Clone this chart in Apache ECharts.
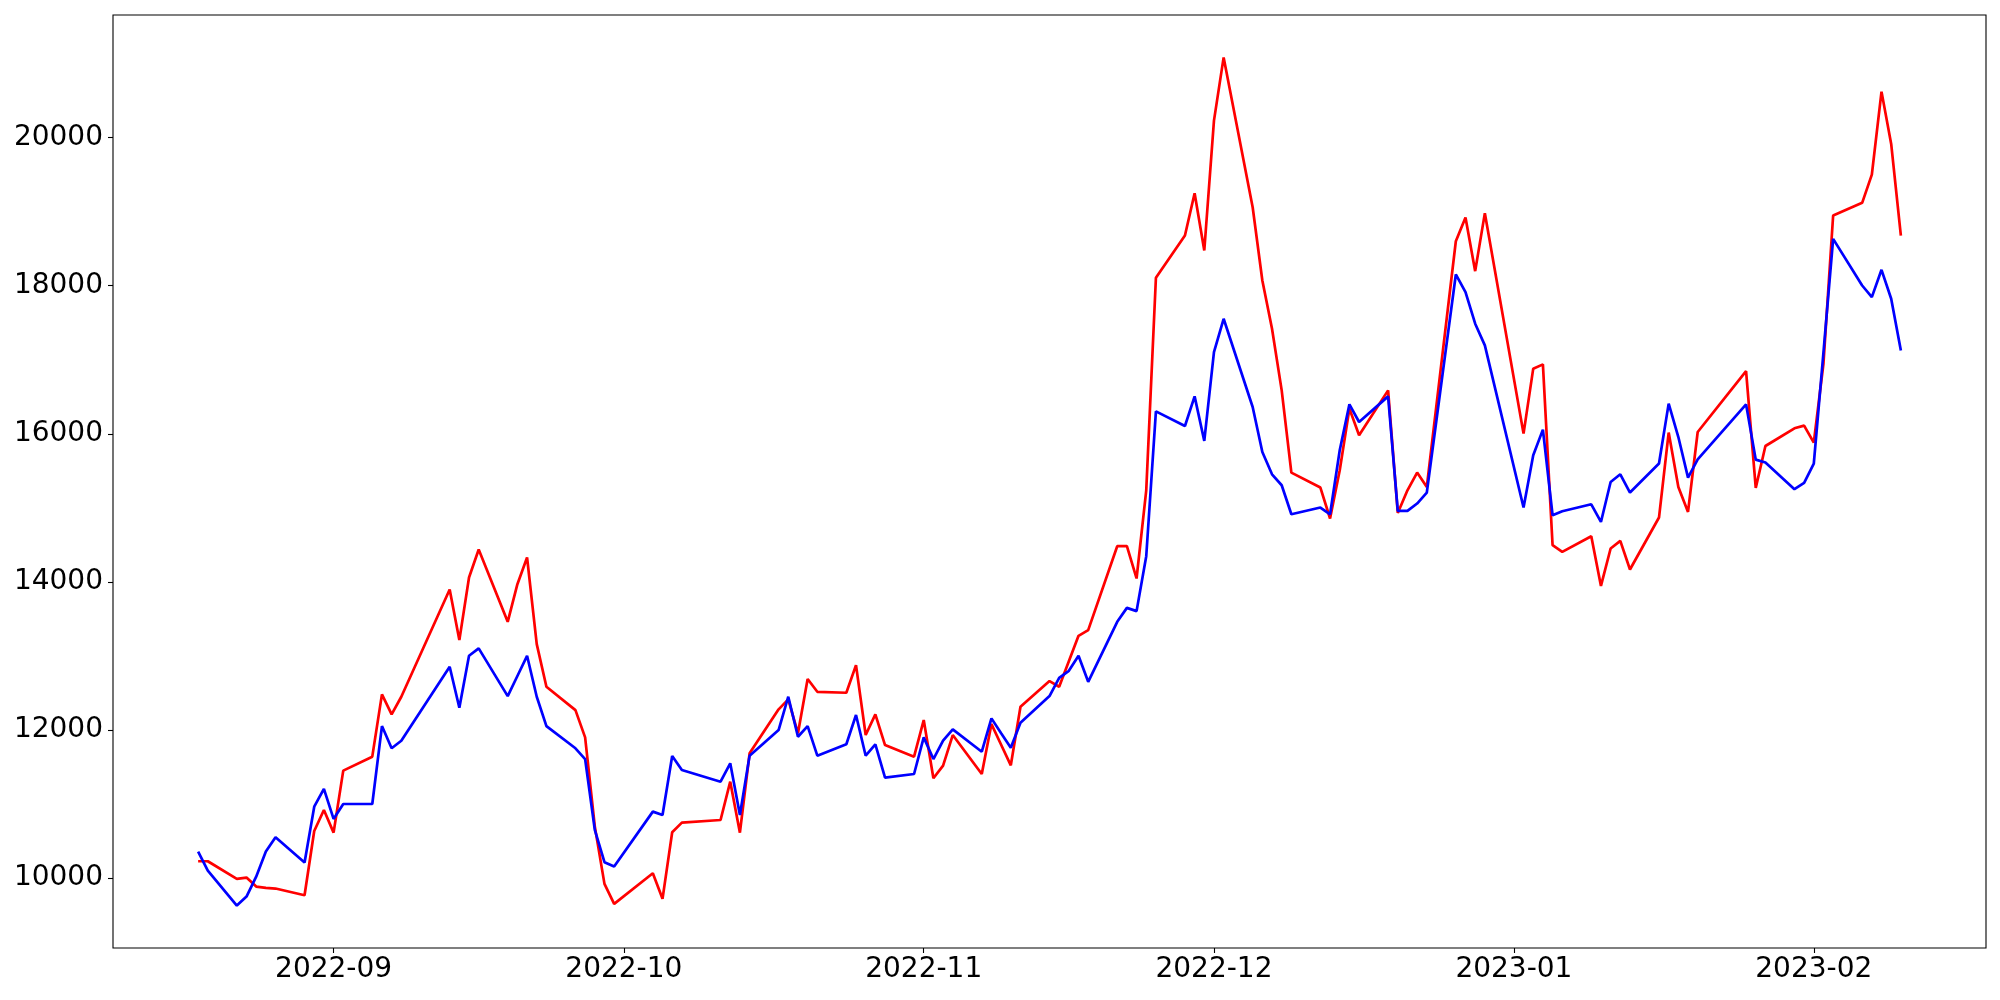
<!DOCTYPE html>
<html>
<head>
<meta charset="utf-8">
<script src="https://cdn.jsdelivr.net/npm/echarts@6/dist/echarts.min.js"></script>
<style>
html, body { margin: 0; padding: 0; background: #fff; }
#chart { width: 2000px; height: 1000px; }
</style>
</head>
<body>
<div id="chart"></div>
<script>
// trading days (weekends and holidays skipped)
var dates = [
  '2022-08-18', '2022-08-19', '2022-08-22', '2022-08-23', '2022-08-24', '2022-08-25', '2022-08-26',
  '2022-08-29', '2022-08-30', '2022-08-31', '2022-09-01', '2022-09-02',
  '2022-09-05', '2022-09-06', '2022-09-07', '2022-09-08',
  '2022-09-13', '2022-09-14', '2022-09-15', '2022-09-16',
  '2022-09-19', '2022-09-20', '2022-09-21', '2022-09-22', '2022-09-23',
  '2022-09-26', '2022-09-27', '2022-09-28', '2022-09-29', '2022-09-30',
  '2022-10-04', '2022-10-05', '2022-10-06', '2022-10-07',
  '2022-10-11', '2022-10-12', '2022-10-13', '2022-10-14',
  '2022-10-17', '2022-10-18', '2022-10-19', '2022-10-20', '2022-10-21',
  '2022-10-24', '2022-10-25', '2022-10-26', '2022-10-27', '2022-10-28',
  '2022-10-31', '2022-11-01', '2022-11-02', '2022-11-03', '2022-11-04',
  '2022-11-07', '2022-11-08', '2022-11-09', '2022-11-10', '2022-11-11',
  '2022-11-14', '2022-11-15', '2022-11-16', '2022-11-17', '2022-11-18',
  '2022-11-21', '2022-11-22', '2022-11-23', '2022-11-24', '2022-11-25',
  '2022-11-28', '2022-11-29', '2022-11-30', '2022-12-01', '2022-12-02',
  '2022-12-05', '2022-12-06', '2022-12-07', '2022-12-08', '2022-12-09',
  '2022-12-12', '2022-12-13', '2022-12-14', '2022-12-15', '2022-12-16',
  '2022-12-19', '2022-12-20', '2022-12-21', '2022-12-22', '2022-12-23',
  '2022-12-26', '2022-12-27', '2022-12-28', '2022-12-29',
  '2023-01-02', '2023-01-03', '2023-01-04', '2023-01-05', '2023-01-06',
  '2023-01-09', '2023-01-10', '2023-01-11', '2023-01-12', '2023-01-13',
  '2023-01-16', '2023-01-17', '2023-01-18', '2023-01-19', '2023-01-20',
  '2023-01-25', '2023-01-26', '2023-01-27',
  '2023-01-30', '2023-01-31', '2023-02-01', '2023-02-02', '2023-02-03',
  '2023-02-06', '2023-02-07', '2023-02-08', '2023-02-09', '2023-02-10'
];

var redValues = [
  10229, 10229, 9990, 10008, 9887, 9870, 9860,
  9770, 10638, 10921, 10615, 11452,
  11641, 12482, 12212, 12450,
  13899, 13215, 14060, 14438,
  13462, 13970, 14330, 13161, 12585,
  12270, 11902, 10700, 9923, 9653,
  10067, 9721, 10621, 10750,
  10786, 11303, 10615, 11686,
  12280, 12415, 11956, 12690, 12517,
  12504, 12877, 11933, 12212, 11798,
  11641, 12135, 11349, 11519, 11933,
  11407, 12081, 11802, 11524, 12315,
  12662, 12585, 12930, 13273, 13350,
  14483, 14483, 14047, 15238, 18107,
  18678, 19249, 18476, 20229, 21083,
  19060, 18071, 17420, 16587, 15477,
  15275, 14857, 15508, 16340, 15980,
  16587, 14932, 15238, 15477, 15283,
  18601, 18920, 18197, 18980,
  16003, 16880, 16938, 14496, 14406,
  14618, 13947, 14452, 14554, 14168,
  14870, 16017, 15283, 14946, 16025,
  16848, 15269, 15836,
  16075, 16111, 15881, 16950, 18948,
  19119, 19501, 20621, 19915, 18678
];

var blueValues = [
  10359, 10103, 9630, 9752, 10020, 10359, 10553,
  10211, 10966, 11205, 10800, 11002,
  11002, 12054, 11754, 11856,
  12855, 12302, 13003, 13103,
  12459, 12730, 13003, 12450, 12054,
  11754, 11609, 10652, 10216, 10157,
  10899, 10854, 11650, 11461,
  11303, 11551, 10854, 11654,
  12000, 12450, 11910, 12054, 11654,
  11808, 12203, 11654, 11808, 11357,
  11407, 11902, 11609, 11856, 12010,
  11708, 12158, 11956, 11762, 12099,
  12459, 12706, 12800, 13003, 12652,
  13462, 13650, 13606, 14348, 16304,
  16106, 16506, 15904, 17104, 17554,
  16362, 15755, 15454, 15306, 14914,
  15005, 14914, 15778, 16398, 16160,
  16506, 14959, 14959, 15059, 15207,
  18152, 17913, 17487, 17194,
  15005, 15710, 16057, 14901, 14955,
  15049, 14810, 15350, 15454, 15207,
  15600, 16408, 15957, 15409, 15656,
  16398, 15652, 15612,
  15252, 15337, 15598, 17100, 18633,
  18003, 17846, 18215, 17824, 17127
];

var yTicks = [10000, 12000, 14000, 16000, 18000, 20000];
var xTicks = ['2022-09', '2022-10', '2022-11', '2022-12', '2023-01', '2023-02'];

function toTime (s) {
  var p = s.split('-');
  return new Date(+p[0], +p[1] - 1, p[2] ? +p[2] : 1).getTime();
}
function pad (n) { return n < 10 ? '0' + n : '' + n; }

var times = dates.map(toTime);
var redData = times.map(function (t, i) { return [t, redValues[i]]; });
var blueData = times.map(function (t, i) { return [t, blueValues[i]]; });
var xTickTimes = xTicks.map(toTime);

// matplotlib-like 5% margins
var tMin = times[0], tMax = times[times.length - 1];
var tPad = (tMax - tMin) * 0.05;
var all = redValues.concat(blueValues);
var vMin = Math.min.apply(null, all), vMax = Math.max.apply(null, all);
var vPad = (vMax - vMin) * 0.05;

var font = 'DejaVu Sans';
var chart = echarts.init(document.getElementById('chart'), null, { renderer: 'canvas' });
var option = {
  animation: false,
  backgroundColor: '#fff',
  grid: {
    left: 113,
    right: 14,
    top: 15,
    bottom: 52,
    show: true,
    borderColor: '#000',
    borderWidth: 1.1,
    backgroundColor: 'transparent'
  },
  xAxis: {
    type: 'value',
    min: tMin - tPad,
    max: tMax + tPad,
    axisLine: { show: false },
    splitLine: { show: false },
    axisTick: {
      show: true,
      length: 5,
      customValues: xTickTimes,
      lineStyle: { color: '#000', width: 1.1 }
    },
    axisLabel: {
      customValues: xTickTimes,
      color: '#000',
      fontSize: 28,
      fontFamily: font,
      margin: 8,
      formatter: function (v) {
        var d = new Date(v);
        return d.getFullYear() + '-' + pad(d.getMonth() + 1);
      }
    }
  },
  yAxis: {
    type: 'value',
    min: vMin - vPad,
    max: vMax + vPad,
    axisLine: { show: false },
    splitLine: { show: false },
    axisTick: {
      show: true,
      length: 5,
      customValues: yTicks,
      lineStyle: { color: '#000', width: 1.1 }
    },
    axisLabel: {
      customValues: yTicks,
      color: '#000',
      fontSize: 28,
      fontFamily: font,
      margin: 10,
      formatter: function (v) { return String(Math.round(v)); }
    }
  },
  series: [
    {
      name: 'red',
      type: 'line',
      data: redData,
      showSymbol: false,
      symbol: 'none',
      lineStyle: { color: '#ff0000', width: 2.7 },
      itemStyle: { color: '#ff0000' }
    },
    {
      name: 'blue',
      type: 'line',
      data: blueData,
      showSymbol: false,
      symbol: 'none',
      lineStyle: { color: '#0000ff', width: 2.7 },
      itemStyle: { color: '#0000ff' }
    }
  ]
};
chart.setOption(option);
</script>
</body>
</html>
